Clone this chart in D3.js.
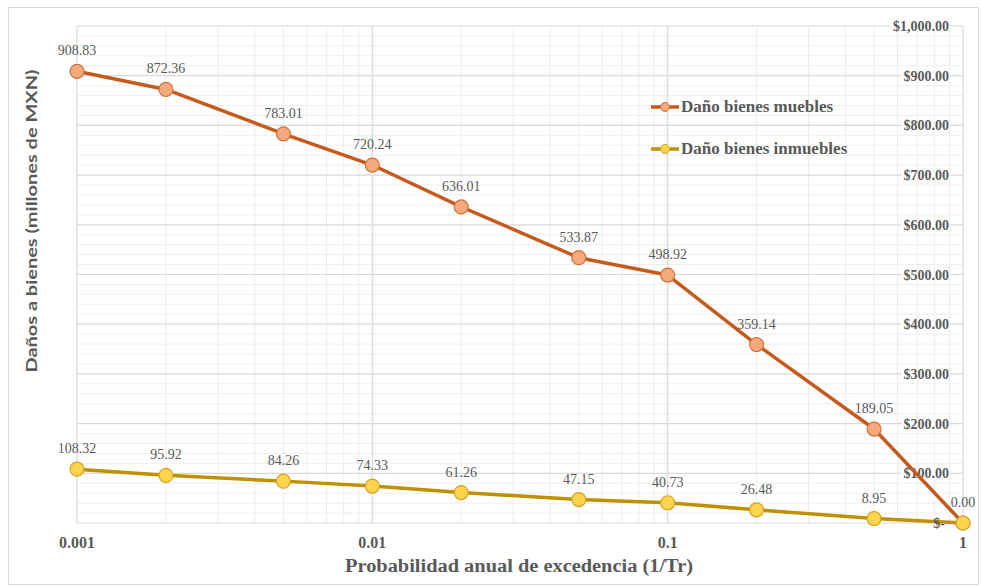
<!DOCTYPE html>
<html><head><meta charset="utf-8">
<script src="https://cdn.jsdelivr.net/npm/d3@7"></script>
<style>body{margin:0;background:#fff}svg{display:block}</style>
</head><body><svg id="c" width="981" height="586"></svg>
<script>
const probs = [0.001, 0.002, 0.005, 0.01, 0.02, 0.05, 0.1, 0.2, 0.5, 1];
const muebles = [908.83, 872.36, 783.01, 720.24, 636.01, 533.87, 498.92, 359.14, 189.05, 0.00];
const inmuebles = [108.32, 95.92, 84.26, 74.33, 61.26, 47.15, 40.73, 26.48, 8.95, 0.00];
const xTicks = [0.001, 0.01, 0.1, 1];
const xTickLabels = ["0.001", "0.01", "0.1", "1"];
const yTicks = [0, 100, 200, 300, 400, 500, 600, 700, 800, 900, 1000];
const yTickLabels = ["$-", "$100.00", "$200.00", "$300.00", "$400.00", "$500.00", "$600.00", "$700.00", "$800.00", "$900.00", "$1,000.00"];
const seriesNames = ["Daño bienes muebles", "Daño bienes inmuebles"];

const svg = d3.select("#c");
const L = 77, R = 963, T = 26, B = 523;
const x = d3.scaleLog().domain([0.001, 1]).range([L, R]);
const y = d3.scaleLinear().domain([0, 1000]).range([B, T]);
const serif = "'Liberation Serif', 'DejaVu Serif', serif";
const gray = "#595959";

svg.append("rect").attr("x", 8.5).attr("y", 7.5).attr("width", 970).attr("height", 577)
  .attr("fill", "#fff").attr("stroke", "#d9d9d9");

const g = svg.append("g");
d3.range(0, 1001, 20).filter(v => v % 100 !== 0).forEach(v => {
  g.append("line").attr("x1", L).attr("x2", R).attr("y1", y(v)).attr("y2", y(v))
    .attr("stroke", "#eeeeee").attr("stroke-width", 1);
});
[0.001, 0.01, 0.1].forEach(d => {
  for (let k = 2; k <= 9; k++) {
    g.append("line").attr("x1", x(d * k)).attr("x2", x(d * k)).attr("y1", T).attr("y2", B)
      .attr("stroke", "#ececec").attr("stroke-width", 1);
  }
});
yTicks.forEach(v => {
  g.append("line").attr("x1", L).attr("x2", R).attr("y1", y(v)).attr("y2", y(v))
    .attr("stroke", "#d9d9d9").attr("stroke-width", 1.2);
});
xTicks.forEach(v => {
  g.append("line").attr("x1", x(v)).attr("x2", x(v)).attr("y1", T).attr("y2", B)
    .attr("stroke", "#d9d9d9").attr("stroke-width", 1.2);
});

yTicks.forEach((v, i) => {
  if (v === 0) return;
  const t = svg.append("text").attr("x", 949).attr("y", y(v) + 5).attr("text-anchor", "end")
    .attr("font-family", serif).attr("font-weight", "bold").attr("font-size", 14).attr("fill", gray)
    .text(yTickLabels[i]);
  const bb = t.node().getBBox();
  svg.insert("rect", () => t.node()).attr("x", bb.x - 2).attr("y", y(v) - 2).attr("width", bb.width + 3).attr("height", 4).attr("fill", "#fff");
});

xTicks.forEach((v, i) => {
  svg.append("text").attr("x", x(v)).attr("y", 548).attr("text-anchor", "middle")
    .attr("font-family", serif).attr("font-weight", "bold").attr("font-size", 16).attr("fill", gray)
    .text(xTickLabels[i]);
});

svg.append("text").attr("x", 519).attr("y", 572).attr("text-anchor", "middle")
  .attr("font-family", serif).attr("font-weight", "bold").attr("font-size", 18).attr("fill", gray)
  .attr("textLength", 348).attr("lengthAdjust", "spacingAndGlyphs")
  .text("Probabilidad anual de excedencia (1/Tr)");
svg.append("text").attr("transform", "translate(37,221) rotate(-90)").attr("text-anchor", "middle")
  .attr("font-family", "Lato, 'Open Sans', sans-serif").attr("font-weight", "bold").attr("font-size", 16).attr("fill", gray)
  .attr("textLength", 303).attr("lengthAdjust", "spacingAndGlyphs")
  .text("Daños a bienes (millones de MXN)");

const styles = [
  {line: "#C55A1D", fill: "#F4AA7D", stroke: "#D0733A"},
  {line: "#BF9000", fill: "#FFD54F", stroke: "#D4A21C"}
];
const data = [muebles, inmuebles];
const line = d3.line().x(d => x(d[0])).y(d => y(d[1]));

data.forEach((vals, si) => {
  const pts = probs.map((p, i) => [p, vals[i]]);
  svg.append("path").attr("d", line(pts)).attr("fill", "none")
    .attr("stroke", styles[si].line).attr("stroke-width", 3.5).attr("stroke-linejoin", "round");
});

// zero label drawn over the lines
svg.append("text").attr("x", 945).attr("y", y(0) + 5).attr("text-anchor", "end")
  .attr("font-family", serif).attr("font-weight", "bold").attr("font-size", 14).attr("fill", gray)
  .text(yTickLabels[0]);

data.forEach((vals, si) => {
  const pts = probs.map((p, i) => [p, vals[i]]);
  svg.selectAll(null).data(pts).enter().append("circle")
    .attr("cx", d => x(d[0])).attr("cy", d => y(d[1])).attr("r", 7)
    .attr("fill", styles[si].fill).attr("stroke", styles[si].stroke).attr("stroke-width", 1.2);
});
data.forEach((vals, si) => {
  probs.forEach((p, i) => {
    if (si === 0 && vals[i] === 0) return;
    svg.append("text").attr("x", x(p)).attr("y", y(vals[i]) - 16).attr("text-anchor", "middle")
      .attr("font-family", serif).attr("font-size", 14).attr("fill", gray)
      .text(vals[i].toFixed(2));
  });
});

seriesNames.forEach((n, i) => {
  const ly = 107 + i * 42;
  svg.append("line").attr("x1", 651).attr("x2", 679).attr("y1", ly).attr("y2", ly)
    .attr("stroke", styles[i].line).attr("stroke-width", 3.5);
  svg.append("circle").attr("cx", 665).attr("cy", ly).attr("r", 4.5)
    .attr("fill", styles[i].fill).attr("stroke", styles[i].stroke).attr("stroke-width", 1);
  svg.append("text").attr("x", 681).attr("y", ly + 5).attr("font-family", serif).attr("font-weight", "bold")
    .attr("font-size", 17).attr("fill", gray).text(n);
});
</script></body></html>
